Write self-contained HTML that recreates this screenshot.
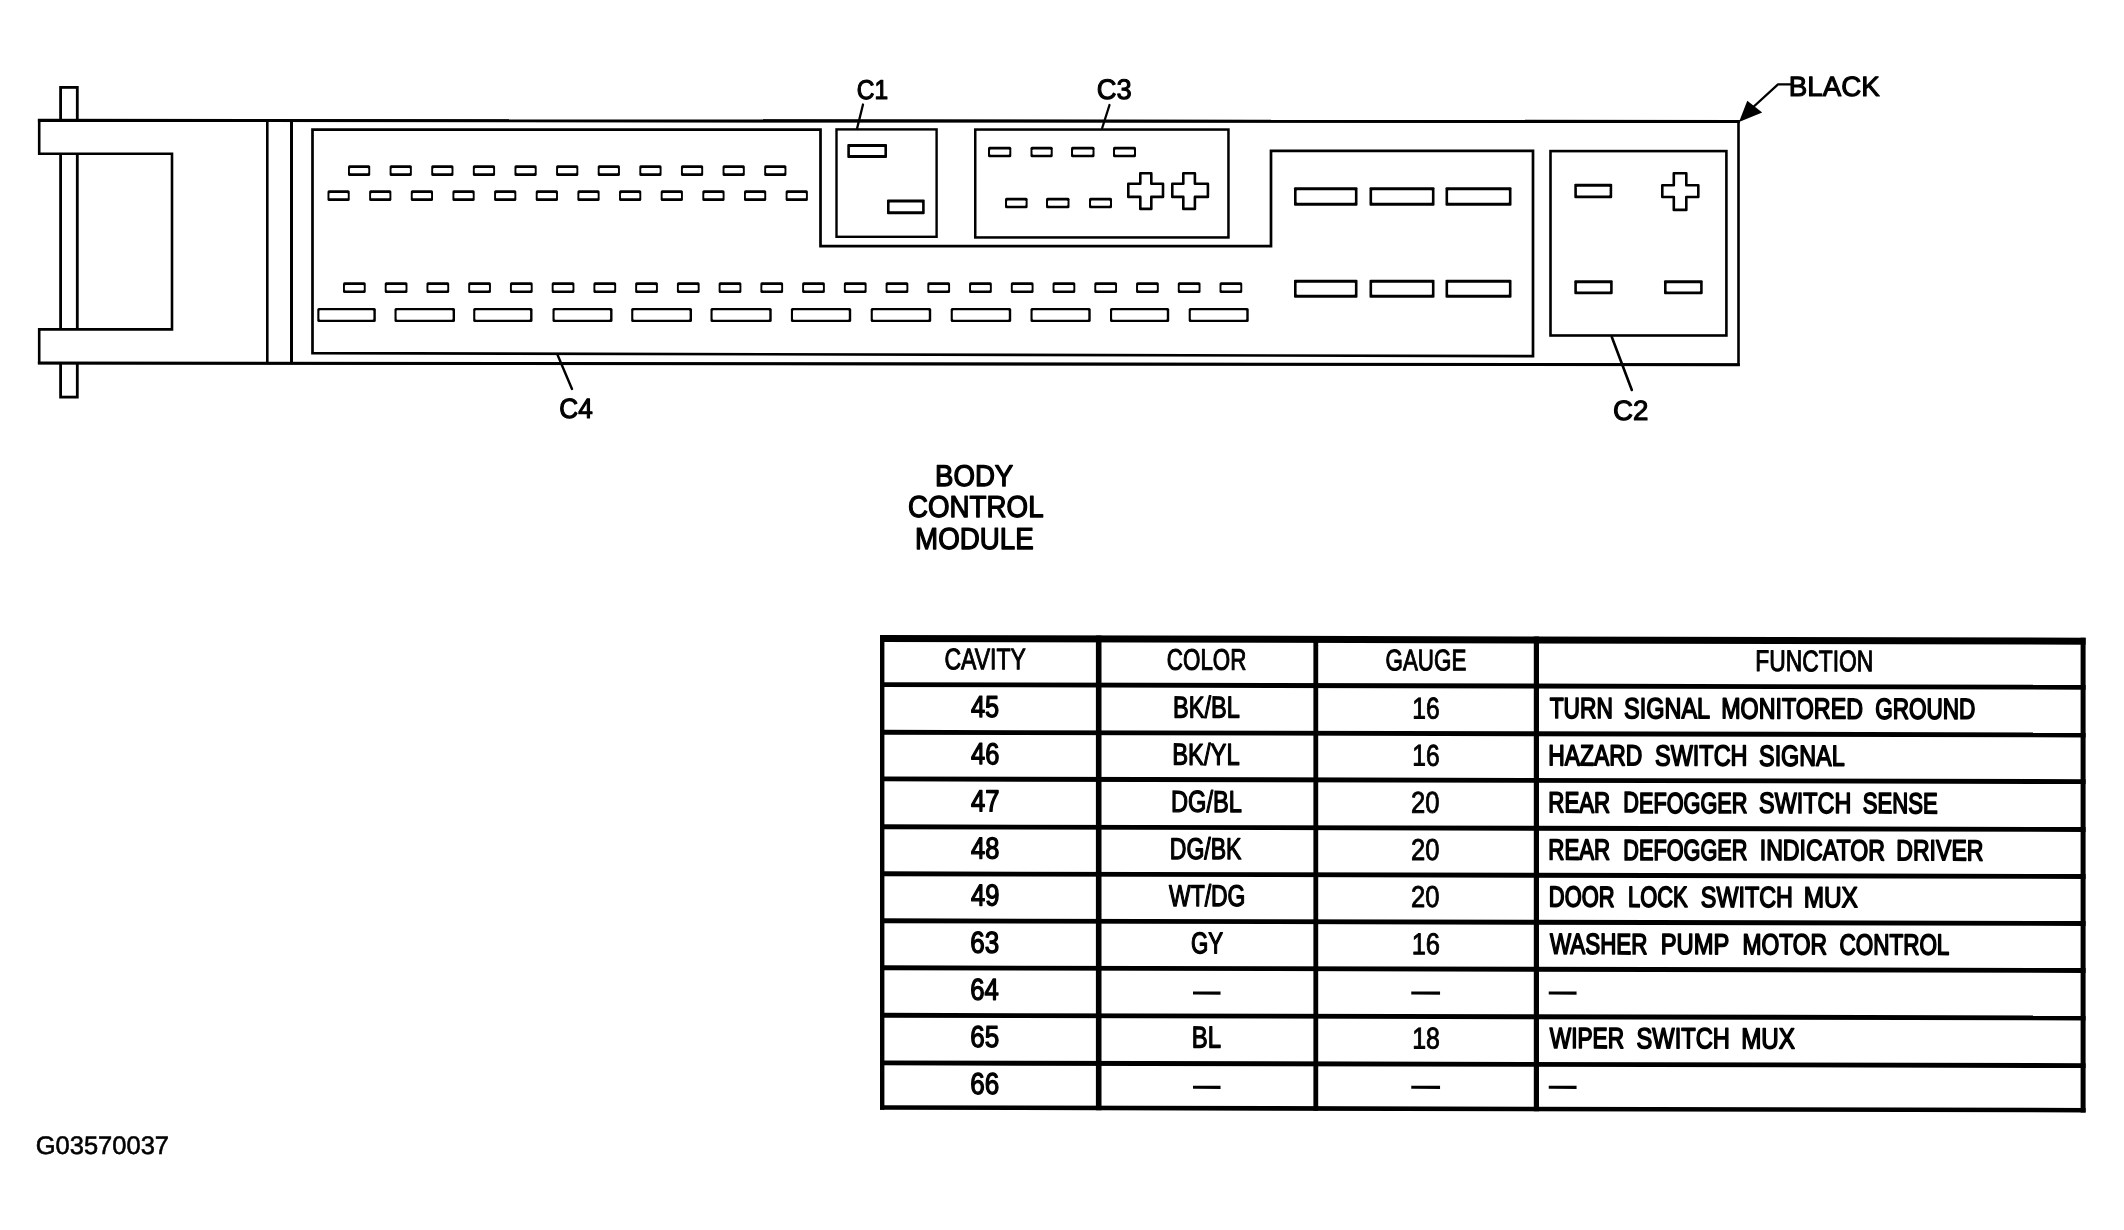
<!DOCTYPE html>
<html><head><meta charset="utf-8"><title>Body Control Module</title>
<style>
html,body{margin:0;padding:0;background:#fff;}
body{width:2124px;height:1230px;overflow:hidden;font-family:"Liberation Sans",sans-serif;}
svg{display:block;will-change:transform;filter:grayscale(1);}
</style></head><body>
<svg width="2124" height="1230" viewBox="0 0 2124 1230" text-rendering="geometricPrecision">
<rect width="2124" height="1230" fill="#fff"/>
<g id="conn">
<rect x="60.6" y="87.4" width="16.7" height="309.7" rx="0" fill="none" stroke="#000" stroke-width="2.8"/>
<path d="M39.2,120.4 L1738.5,121.5 L1738.5,364.8 L39.2,363 V329.4 H172 V153.8 H39.2 Z" fill="#fff" stroke="#000" stroke-width="2.6" stroke-linejoin="miter"/>
<path d="M37.9,120.4 L1739.8,121.5" stroke="#000" stroke-width="3.1" fill="none"/>
<path d="M37.9,363 L1739.8,364.8" stroke="#000" stroke-width="3" fill="none"/>
<line x1="267.3" y1="120.6" x2="267.3" y2="363.2" stroke="#000" stroke-width="2.6" stroke-linecap="butt"/>
<line x1="291.5" y1="120.6" x2="291.5" y2="363.2" stroke="#000" stroke-width="3" stroke-linecap="butt"/>
<path d="M312.5,129.6 H820.5 V246.2 H1271 V150.8 H1533 V356.1 L312.5,353.2 Z" fill="none" stroke="#000" stroke-width="2.7"/>
<rect x="836.5" y="129.4" width="100.1" height="107.4" rx="0" fill="none" stroke="#000" stroke-width="2.4"/>
<rect x="975.25" y="129.55" width="253.2" height="107.9" rx="0" fill="none" stroke="#000" stroke-width="2.5"/>
<rect x="1550.5" y="151.1" width="175.9" height="184.4" rx="0" fill="none" stroke="#000" stroke-width="2.6"/>
<rect x="348" y="165.3" width="22.2" height="10.6" rx="1.5" fill="#000"/><rect x="349.9" y="168" width="18.4" height="5.2" rx="0.8999999999999999" fill="#fff"/>
<rect x="389.62" y="165.3" width="22.2" height="10.6" rx="1.5" fill="#000"/><rect x="391.52" y="168" width="18.4" height="5.2" rx="0.8999999999999999" fill="#fff"/>
<rect x="431.24" y="165.3" width="22.2" height="10.6" rx="1.5" fill="#000"/><rect x="433.14" y="168" width="18.4" height="5.2" rx="0.8999999999999999" fill="#fff"/>
<rect x="472.86" y="165.3" width="22.2" height="10.6" rx="1.5" fill="#000"/><rect x="474.76" y="168" width="18.4" height="5.2" rx="0.8999999999999999" fill="#fff"/>
<rect x="514.48" y="165.3" width="22.2" height="10.6" rx="1.5" fill="#000"/><rect x="516.38" y="168" width="18.4" height="5.2" rx="0.8999999999999999" fill="#fff"/>
<rect x="556.1" y="165.3" width="22.2" height="10.6" rx="1.5" fill="#000"/><rect x="558" y="168" width="18.4" height="5.2" rx="0.8999999999999999" fill="#fff"/>
<rect x="597.72" y="165.3" width="22.2" height="10.6" rx="1.5" fill="#000"/><rect x="599.62" y="168" width="18.4" height="5.2" rx="0.8999999999999999" fill="#fff"/>
<rect x="639.34" y="165.3" width="22.2" height="10.6" rx="1.5" fill="#000"/><rect x="641.24" y="168" width="18.4" height="5.2" rx="0.8999999999999999" fill="#fff"/>
<rect x="680.96" y="165.3" width="22.2" height="10.6" rx="1.5" fill="#000"/><rect x="682.86" y="168" width="18.4" height="5.2" rx="0.8999999999999999" fill="#fff"/>
<rect x="722.58" y="165.3" width="22.2" height="10.6" rx="1.5" fill="#000"/><rect x="724.48" y="168" width="18.4" height="5.2" rx="0.8999999999999999" fill="#fff"/>
<rect x="764.2" y="165.3" width="22.2" height="10.6" rx="1.5" fill="#000"/><rect x="766.1" y="168" width="18.4" height="5.2" rx="0.8999999999999999" fill="#fff"/>
<rect x="327.5" y="190.3" width="22.2" height="10.7" rx="1.5" fill="#000"/><rect x="329.4" y="193" width="18.4" height="5.3" rx="0.8999999999999999" fill="#fff"/>
<rect x="369.15" y="190.3" width="22.2" height="10.7" rx="1.5" fill="#000"/><rect x="371.05" y="193" width="18.4" height="5.3" rx="0.8999999999999999" fill="#fff"/>
<rect x="410.8" y="190.3" width="22.2" height="10.7" rx="1.5" fill="#000"/><rect x="412.7" y="193" width="18.4" height="5.3" rx="0.8999999999999999" fill="#fff"/>
<rect x="452.45" y="190.3" width="22.2" height="10.7" rx="1.5" fill="#000"/><rect x="454.35" y="193" width="18.4" height="5.3" rx="0.8999999999999999" fill="#fff"/>
<rect x="494.1" y="190.3" width="22.2" height="10.7" rx="1.5" fill="#000"/><rect x="496" y="193" width="18.4" height="5.3" rx="0.8999999999999999" fill="#fff"/>
<rect x="535.75" y="190.3" width="22.2" height="10.7" rx="1.5" fill="#000"/><rect x="537.65" y="193" width="18.4" height="5.3" rx="0.8999999999999999" fill="#fff"/>
<rect x="577.4" y="190.3" width="22.2" height="10.7" rx="1.5" fill="#000"/><rect x="579.3" y="193" width="18.4" height="5.3" rx="0.8999999999999999" fill="#fff"/>
<rect x="619.05" y="190.3" width="22.2" height="10.7" rx="1.5" fill="#000"/><rect x="620.95" y="193" width="18.4" height="5.3" rx="0.8999999999999999" fill="#fff"/>
<rect x="660.7" y="190.3" width="22.2" height="10.7" rx="1.5" fill="#000"/><rect x="662.6" y="193" width="18.4" height="5.3" rx="0.8999999999999999" fill="#fff"/>
<rect x="702.35" y="190.3" width="22.2" height="10.7" rx="1.5" fill="#000"/><rect x="704.25" y="193" width="18.4" height="5.3" rx="0.8999999999999999" fill="#fff"/>
<rect x="744" y="190.3" width="22.2" height="10.7" rx="1.5" fill="#000"/><rect x="745.9" y="193" width="18.4" height="5.3" rx="0.8999999999999999" fill="#fff"/>
<rect x="785.65" y="190.3" width="22.2" height="10.7" rx="1.5" fill="#000"/><rect x="787.55" y="193" width="18.4" height="5.3" rx="0.8999999999999999" fill="#fff"/>
<rect x="343" y="282.2" width="22.7" height="10.7" rx="1.5" fill="#000"/><rect x="344.9" y="284.9" width="18.9" height="5.6" rx="0.8999999999999999" fill="#fff"/>
<rect x="384.74" y="282.2" width="22.7" height="10.7" rx="1.5" fill="#000"/><rect x="386.64" y="284.9" width="18.9" height="5.6" rx="0.8999999999999999" fill="#fff"/>
<rect x="426.48" y="282.2" width="22.7" height="10.7" rx="1.5" fill="#000"/><rect x="428.38" y="284.9" width="18.9" height="5.6" rx="0.8999999999999999" fill="#fff"/>
<rect x="468.22" y="282.2" width="22.7" height="10.7" rx="1.5" fill="#000"/><rect x="470.12" y="284.9" width="18.9" height="5.6" rx="0.8999999999999999" fill="#fff"/>
<rect x="509.96" y="282.2" width="22.7" height="10.7" rx="1.5" fill="#000"/><rect x="511.86" y="284.9" width="18.9" height="5.6" rx="0.8999999999999999" fill="#fff"/>
<rect x="551.7" y="282.2" width="22.7" height="10.7" rx="1.5" fill="#000"/><rect x="553.6" y="284.9" width="18.9" height="5.6" rx="0.8999999999999999" fill="#fff"/>
<rect x="593.44" y="282.2" width="22.7" height="10.7" rx="1.5" fill="#000"/><rect x="595.34" y="284.9" width="18.9" height="5.6" rx="0.8999999999999999" fill="#fff"/>
<rect x="635.18" y="282.2" width="22.7" height="10.7" rx="1.5" fill="#000"/><rect x="637.08" y="284.9" width="18.9" height="5.6" rx="0.8999999999999999" fill="#fff"/>
<rect x="676.92" y="282.2" width="22.7" height="10.7" rx="1.5" fill="#000"/><rect x="678.82" y="284.9" width="18.9" height="5.6" rx="0.8999999999999999" fill="#fff"/>
<rect x="718.66" y="282.2" width="22.7" height="10.7" rx="1.5" fill="#000"/><rect x="720.56" y="284.9" width="18.9" height="5.6" rx="0.8999999999999999" fill="#fff"/>
<rect x="760.4" y="282.2" width="22.7" height="10.7" rx="1.5" fill="#000"/><rect x="762.3" y="284.9" width="18.9" height="5.6" rx="0.8999999999999999" fill="#fff"/>
<rect x="802.14" y="282.2" width="22.7" height="10.7" rx="1.5" fill="#000"/><rect x="804.04" y="284.9" width="18.9" height="5.6" rx="0.8999999999999999" fill="#fff"/>
<rect x="843.88" y="282.2" width="22.7" height="10.7" rx="1.5" fill="#000"/><rect x="845.78" y="284.9" width="18.9" height="5.6" rx="0.8999999999999999" fill="#fff"/>
<rect x="885.62" y="282.2" width="22.7" height="10.7" rx="1.5" fill="#000"/><rect x="887.52" y="284.9" width="18.9" height="5.6" rx="0.8999999999999999" fill="#fff"/>
<rect x="927.36" y="282.2" width="22.7" height="10.7" rx="1.5" fill="#000"/><rect x="929.26" y="284.9" width="18.9" height="5.6" rx="0.8999999999999999" fill="#fff"/>
<rect x="969.1" y="282.2" width="22.7" height="10.7" rx="1.5" fill="#000"/><rect x="971" y="284.9" width="18.9" height="5.6" rx="0.8999999999999999" fill="#fff"/>
<rect x="1010.84" y="282.2" width="22.7" height="10.7" rx="1.5" fill="#000"/><rect x="1012.74" y="284.9" width="18.9" height="5.6" rx="0.8999999999999999" fill="#fff"/>
<rect x="1052.58" y="282.2" width="22.7" height="10.7" rx="1.5" fill="#000"/><rect x="1054.48" y="284.9" width="18.9" height="5.6" rx="0.8999999999999999" fill="#fff"/>
<rect x="1094.32" y="282.2" width="22.7" height="10.7" rx="1.5" fill="#000"/><rect x="1096.22" y="284.9" width="18.9" height="5.6" rx="0.8999999999999999" fill="#fff"/>
<rect x="1136.06" y="282.2" width="22.7" height="10.7" rx="1.5" fill="#000"/><rect x="1137.96" y="284.9" width="18.9" height="5.6" rx="0.8999999999999999" fill="#fff"/>
<rect x="1177.8" y="282.2" width="22.7" height="10.7" rx="1.5" fill="#000"/><rect x="1179.7" y="284.9" width="18.9" height="5.6" rx="0.8999999999999999" fill="#fff"/>
<rect x="1219.54" y="282.2" width="22.7" height="10.7" rx="1.5" fill="#000"/><rect x="1221.44" y="284.9" width="18.9" height="5.6" rx="0.8999999999999999" fill="#fff"/>
<rect x="317.3" y="308" width="58.5" height="13.9" rx="1.5" fill="#000"/><rect x="319.4" y="310.2" width="54" height="9.5" rx="0.8999999999999999" fill="#fff"/>
<rect x="394.5" y="308" width="60.5" height="13.9" rx="1.5" fill="#000"/><rect x="396.6" y="310.2" width="56" height="9.5" rx="0.8999999999999999" fill="#fff"/>
<rect x="473.2" y="308" width="59.3" height="13.9" rx="1.5" fill="#000"/><rect x="475.3" y="310.2" width="54.8" height="9.5" rx="0.8999999999999999" fill="#fff"/>
<rect x="552.5" y="308" width="60" height="13.9" rx="1.5" fill="#000"/><rect x="554.6" y="310.2" width="55.5" height="9.5" rx="0.8999999999999999" fill="#fff"/>
<rect x="631.2" y="308" width="60.8" height="13.9" rx="1.5" fill="#000"/><rect x="633.3" y="310.2" width="56.3" height="9.5" rx="0.8999999999999999" fill="#fff"/>
<rect x="710.5" y="308" width="61.2" height="13.9" rx="1.5" fill="#000"/><rect x="712.6" y="310.2" width="56.7" height="9.5" rx="0.8999999999999999" fill="#fff"/>
<rect x="790.9" y="308" width="60.3" height="13.9" rx="1.5" fill="#000"/><rect x="793" y="310.2" width="55.8" height="9.5" rx="0.8999999999999999" fill="#fff"/>
<rect x="870.7" y="308" width="60.5" height="13.9" rx="1.5" fill="#000"/><rect x="872.8" y="310.2" width="56" height="9.5" rx="0.8999999999999999" fill="#fff"/>
<rect x="950.7" y="308" width="60.5" height="13.9" rx="1.5" fill="#000"/><rect x="952.8" y="310.2" width="56" height="9.5" rx="0.8999999999999999" fill="#fff"/>
<rect x="1030.5" y="308" width="60.2" height="13.9" rx="1.5" fill="#000"/><rect x="1032.6" y="310.2" width="55.7" height="9.5" rx="0.8999999999999999" fill="#fff"/>
<rect x="1110" y="308" width="59.2" height="13.9" rx="1.5" fill="#000"/><rect x="1112.1" y="310.2" width="54.7" height="9.5" rx="0.8999999999999999" fill="#fff"/>
<rect x="1188.7" y="308" width="60" height="13.9" rx="1.5" fill="#000"/><rect x="1190.8" y="310.2" width="55.5" height="9.5" rx="0.8999999999999999" fill="#fff"/>
<rect x="1294" y="187.3" width="63.5" height="18.4" rx="1" fill="#000"/><rect x="1296.6" y="190.3" width="58.3" height="12.4" rx="0.6" fill="#fff"/>
<rect x="1294" y="279.8" width="63.5" height="17.9" rx="1" fill="#000"/><rect x="1296.6" y="282.8" width="58.3" height="11.9" rx="0.6" fill="#fff"/>
<rect x="1369.5" y="187.3" width="65" height="18.4" rx="1" fill="#000"/><rect x="1372.1" y="190.3" width="59.8" height="12.4" rx="0.6" fill="#fff"/>
<rect x="1369.5" y="279.8" width="65" height="17.9" rx="1" fill="#000"/><rect x="1372.1" y="282.8" width="59.8" height="11.9" rx="0.6" fill="#fff"/>
<rect x="1445.5" y="187.3" width="66" height="18.4" rx="1" fill="#000"/><rect x="1448.1" y="190.3" width="60.8" height="12.4" rx="0.6" fill="#fff"/>
<rect x="1445.5" y="279.8" width="66" height="17.9" rx="1" fill="#000"/><rect x="1448.1" y="282.8" width="60.8" height="11.9" rx="0.6" fill="#fff"/>
<rect x="847.3" y="144" width="39.7" height="14" rx="1" fill="#000"/><rect x="849.9" y="146.9" width="34.5" height="8.2" rx="0.6" fill="#fff"/>
<rect x="887" y="199.6" width="37.7" height="14.6" rx="1" fill="#000"/><rect x="889.6" y="202.5" width="32.5" height="8.8" rx="0.6" fill="#fff"/>
<rect x="988" y="146.8" width="23.3" height="10.5" rx="1.5" fill="#000"/><rect x="990" y="149.4" width="19.3" height="5.3" rx="0.8999999999999999" fill="#fff"/>
<rect x="1030.5" y="146.8" width="22.2" height="10.5" rx="1.5" fill="#000"/><rect x="1032.5" y="149.4" width="18.2" height="5.3" rx="0.8999999999999999" fill="#fff"/>
<rect x="1071" y="146.8" width="23.5" height="10.5" rx="1.5" fill="#000"/><rect x="1073" y="149.4" width="19.5" height="5.3" rx="0.8999999999999999" fill="#fff"/>
<rect x="1113" y="146.8" width="23" height="10.5" rx="1.5" fill="#000"/><rect x="1115" y="149.4" width="19" height="5.3" rx="0.8999999999999999" fill="#fff"/>
<rect x="1005" y="197.8" width="22.6" height="10.5" rx="1.5" fill="#000"/><rect x="1007" y="200.4" width="18.6" height="5.3" rx="0.8999999999999999" fill="#fff"/>
<rect x="1046" y="197.8" width="23.5" height="10.5" rx="1.5" fill="#000"/><rect x="1048" y="200.4" width="19.5" height="5.3" rx="0.8999999999999999" fill="#fff"/>
<rect x="1089" y="197.8" width="23" height="10.5" rx="1.5" fill="#000"/><rect x="1091" y="200.4" width="19" height="5.3" rx="0.8999999999999999" fill="#fff"/>
<path d="M1140.3,173.3 H1151.3 V183.8 H1163 V196.9 H1151.3 V208.9 H1140.3 V196.9 H1128.3 V183.8 H1140.3 Z" fill="none" stroke="#000" stroke-width="2.6" stroke-linejoin="round"/>
<path d="M1183.3,173.3 H1194.9 V183.8 H1207.9 V196.9 H1194.9 V208.9 H1183.3 V196.9 H1172.3 V183.8 H1183.3 Z" fill="none" stroke="#000" stroke-width="2.6" stroke-linejoin="round"/>
<rect x="1574.3" y="183.8" width="37.9" height="14.5" rx="1" fill="#000"/><rect x="1576.9" y="186.7" width="32.7" height="8.7" rx="0.6" fill="#fff"/>
<rect x="1574.3" y="280.3" width="38.4" height="14" rx="1" fill="#000"/><rect x="1576.9" y="283.2" width="33.2" height="8.2" rx="0.6" fill="#fff"/>
<rect x="1664" y="280.3" width="38.7" height="14" rx="1" fill="#000"/><rect x="1666.6" y="283.2" width="33.5" height="8.2" rx="0.6" fill="#fff"/>
<path d="M1673.8,173.3 H1686.3 V185.3 H1698.3 V197 H1686.3 V209.9 H1673.8 V197 H1662.3 V185.3 H1673.8 Z" fill="none" stroke="#000" stroke-width="2.6" stroke-linejoin="round"/>
<line x1="863" y1="104.5" x2="857.2" y2="128" stroke="#000" stroke-width="2.3" stroke-linecap="round"/>
<line x1="1109.5" y1="105" x2="1102.2" y2="128" stroke="#000" stroke-width="2.3" stroke-linecap="round"/>
<line x1="557.6" y1="355" x2="572" y2="389" stroke="#000" stroke-width="2.4" stroke-linecap="round"/>
<line x1="1611.8" y1="337" x2="1631.8" y2="390" stroke="#000" stroke-width="2.6" stroke-linecap="round"/>
<path d="M1791,84.4 H1778 L1750,110" fill="none" stroke="#000" stroke-width="2.3" stroke-linejoin="round"/>
<path d="M1739,122 L1747.3,100.8 L1762.2,112.6 Z" fill="#000"/>
</g>
<g id="labels" font-family="'Liberation Sans', sans-serif" fill="#000">
<text transform="matrix(0.2449 0 0 0.2717 856.83 98.59)" font-size="100" stroke="#000" stroke-width="4.49" stroke-linejoin="round">C1</text>
<text transform="matrix(0.2734 0 0 0.2831 1096.68 98.83)" font-size="100" stroke="#000" stroke-width="4.02" stroke-linejoin="round">C3</text>
<text transform="matrix(0.2617 0 0 0.2796 559.24 417.81)" font-size="100" stroke="#000" stroke-width="4.20" stroke-linejoin="round">C4</text>
<text transform="matrix(0.2769 0 0 0.2805 1612.97 420.14)" font-size="100" stroke="#000" stroke-width="3.97" stroke-linejoin="round">C2</text>
<text transform="matrix(0.2776 0 0 0.2792 1788.76 95.75)" font-size="100" stroke="#000" stroke-width="3.96" stroke-linejoin="round">BLACK</text>
<text transform="matrix(0.2762 0 0 0.2996 935.02 485.55)" font-size="100" stroke="#000" stroke-width="4.34" stroke-linejoin="round">BODY</text>
<text transform="matrix(0.2776 0 0 0.3038 907.91 517.04)" font-size="100" stroke="#000" stroke-width="4.32" stroke-linejoin="round">CONTROL</text>
<text transform="matrix(0.2777 0 0 0.3038 915.01 548.54)" font-size="100" stroke="#000" stroke-width="4.32" stroke-linejoin="round">MODULE</text>
<text transform="matrix(0.2550 0 0 0.2546 35.72 1154.2)" font-size="100" stroke="#000" stroke-width="2.35" stroke-linejoin="round">G03570037</text>
</g>
<g id="table" transform="translate(882 638) skewY(0.128) translate(-882 -638)">
<rect x="880" y="635" width="1205.6" height="7" fill="#000"/>
<rect x="880" y="682.15" width="1205.6" height="4.9" fill="#000"/>
<rect x="880" y="729.85" width="1205.6" height="4.9" fill="#000"/>
<rect x="880" y="776.45" width="1205.6" height="4.9" fill="#000"/>
<rect x="880" y="824.35" width="1205.6" height="4.9" fill="#000"/>
<rect x="880" y="871.35" width="1205.6" height="4.9" fill="#000"/>
<rect x="880" y="918.35" width="1205.6" height="4.9" fill="#000"/>
<rect x="880" y="965.35" width="1205.6" height="4.9" fill="#000"/>
<rect x="880" y="1012.85" width="1205.6" height="4.9" fill="#000"/>
<rect x="880" y="1060.45" width="1205.6" height="4.9" fill="#000"/>
<rect x="880" y="1105.2" width="1205.6" height="4.6" fill="#000"/>
<rect x="880" y="635" width="4.4" height="474.8" fill="#000"/>
<rect x="1095.9" y="635" width="5.6" height="474.8" fill="#000"/>
<rect x="1313.4" y="635" width="4.8" height="474.8" fill="#000"/>
<rect x="1533.8" y="635" width="5.2" height="474.8" fill="#000"/>
<rect x="2080.6" y="635" width="5" height="474.8" fill="#000"/>
<g font-family="'Liberation Sans', sans-serif" fill="#000">
<text transform="matrix(0.2303 0 0 0.2977 944.45 669.08)" font-size="100" stroke="#000" stroke-width="3.47" stroke-linejoin="round">CAVITY</text>
<text transform="matrix(0.2240 0 0 0.2973 1166.78 669.07)" font-size="100" stroke="#000" stroke-width="3.57" stroke-linejoin="round">COLOR</text>
<text transform="matrix(0.2239 0 0 0.2973 1385.48 669.07)" font-size="100" stroke="#000" stroke-width="3.57" stroke-linejoin="round">GAUGE</text>
<text transform="matrix(0.2285 0 0 0.2976 1755.21 669.08)" font-size="100" stroke="#000" stroke-width="3.50" stroke-linejoin="round">FUNCTION</text>
<text transform="matrix(0.2535 0 0 0.3029 971 716.71)" font-size="100" stroke="#000" stroke-width="4.54" stroke-linejoin="round">45</text>
<text transform="matrix(0.2541 0 0 0.3030 971 763.91)" font-size="100" stroke="#000" stroke-width="4.53" stroke-linejoin="round">46</text>
<text transform="matrix(0.2559 0 0 0.3031 971 811.12)" font-size="100" stroke="#000" stroke-width="4.49" stroke-linejoin="round">47</text>
<text transform="matrix(0.2541 0 0 0.3030 971 858.21)" font-size="100" stroke="#000" stroke-width="4.53" stroke-linejoin="round">48</text>
<text transform="matrix(0.2547 0 0 0.3030 971 905.32)" font-size="100" stroke="#000" stroke-width="4.52" stroke-linejoin="round">49</text>
<text transform="matrix(0.2609 0 0 0.3035 970.27 952.53)" font-size="100" stroke="#000" stroke-width="4.41" stroke-linejoin="round">63</text>
<text transform="matrix(0.2571 0 0 0.3032 970.29 999.52)" font-size="100" stroke="#000" stroke-width="4.47" stroke-linejoin="round">64</text>
<text transform="matrix(0.2603 0 0 0.3034 970.27 1046.73)" font-size="100" stroke="#000" stroke-width="4.42" stroke-linejoin="round">65</text>
<text transform="matrix(0.2609 0 0 0.3035 970.27 1093.73)" font-size="100" stroke="#000" stroke-width="4.41" stroke-linejoin="round">66</text>
<text transform="matrix(0.2353 0 0 0.3014 1173.06 716.76)" font-size="100" stroke="#000" stroke-width="4.25" stroke-linejoin="round">BK/BL</text>
<text transform="matrix(0.2382 0 0 0.3016 1172.23 763.97)" font-size="100" stroke="#000" stroke-width="4.20" stroke-linejoin="round">BK/YL</text>
<text transform="matrix(0.2364 0 0 0.3015 1171.05 811.16)" font-size="100" stroke="#000" stroke-width="4.23" stroke-linejoin="round">DG/BL</text>
<text transform="matrix(0.2303 0 0 0.3010 1169.8 858.25)" font-size="100" stroke="#000" stroke-width="4.34" stroke-linejoin="round">DG/BK</text>
<text transform="matrix(0.2291 0 0 0.3009 1169.09 905.34)" font-size="100" stroke="#000" stroke-width="4.37" stroke-linejoin="round">WT/DG</text>
<text transform="matrix(0.2222 0 0 0.3003 1191.09 952.52)" font-size="100" stroke="#000" stroke-width="4.50" stroke-linejoin="round">GY</text>
<text transform="matrix(0.2393 0 0 0.3017 1191.73 1046.77)" font-size="100" stroke="#000" stroke-width="4.18" stroke-linejoin="round">BL</text>
<text transform="matrix(0.2463 0 0 0.3009 1412.23 717.24)" font-size="100" stroke="#000" stroke-width="3.04" stroke-linejoin="round">16</text>
<text transform="matrix(0.2463 0 0 0.3009 1412.23 764.44)" font-size="100" stroke="#000" stroke-width="3.04" stroke-linejoin="round">16</text>
<text transform="matrix(0.2557 0 0 0.3013 1411.1 811.66)" font-size="100" stroke="#000" stroke-width="2.93" stroke-linejoin="round">20</text>
<text transform="matrix(0.2557 0 0 0.3013 1411.1 858.76)" font-size="100" stroke="#000" stroke-width="2.93" stroke-linejoin="round">20</text>
<text transform="matrix(0.2557 0 0 0.3013 1411.1 905.86)" font-size="100" stroke="#000" stroke-width="2.93" stroke-linejoin="round">20</text>
<text transform="matrix(0.2544 0 0 0.3013 1411.67 953.06)" font-size="100" stroke="#000" stroke-width="2.95" stroke-linejoin="round">16</text>
<text transform="matrix(0.2494 0 0 0.3010 1412.2 1047.25)" font-size="100" stroke="#000" stroke-width="3.01" stroke-linejoin="round">18</text>
<text transform="matrix(0.2279 0 0 0.2901 1549.64 716.47)" font-size="100" stroke="#000" stroke-width="5.70" stroke-linejoin="round">TURN</text>
<text transform="matrix(0.2345 0 0 0.2907 1624.09 716.49)" font-size="100" stroke="#000" stroke-width="5.54" stroke-linejoin="round">SIGNAL</text>
<text transform="matrix(0.2326 0 0 0.2906 1721.23 716.49)" font-size="100" stroke="#000" stroke-width="5.59" stroke-linejoin="round">MONITORED</text>
<text transform="matrix(0.2254 0 0 0.2899 1875.22 716.46)" font-size="100" stroke="#000" stroke-width="5.77" stroke-linejoin="round">GROUND</text>
<text transform="matrix(0.2290 0 0 0.2902 1548.26 763.68)" font-size="100" stroke="#000" stroke-width="5.68" stroke-linejoin="round">HAZARD</text>
<text transform="matrix(0.2342 0 0 0.2907 1655.1 763.69)" font-size="100" stroke="#000" stroke-width="5.55" stroke-linejoin="round">SWITCH</text>
<text transform="matrix(0.2331 0 0 0.2906 1759.1 763.69)" font-size="100" stroke="#000" stroke-width="5.58" stroke-linejoin="round">SIGNAL</text>
<text transform="matrix(0.2225 0 0 0.2896 1548.31 810.85)" font-size="100" stroke="#000" stroke-width="5.84" stroke-linejoin="round">REAR</text>
<text transform="matrix(0.2167 0 0 0.2890 1623.36 810.83)" font-size="100" stroke="#000" stroke-width="6.00" stroke-linejoin="round">DEFOGGER</text>
<text transform="matrix(0.2337 0 0 0.2907 1759.1 810.89)" font-size="100" stroke="#000" stroke-width="5.56" stroke-linejoin="round">SWITCH</text>
<text transform="matrix(0.2210 0 0 0.2894 1862.86 810.85)" font-size="100" stroke="#000" stroke-width="5.88" stroke-linejoin="round">SENSE</text>
<text transform="matrix(0.2225 0 0 0.2896 1548.31 857.95)" font-size="100" stroke="#000" stroke-width="5.84" stroke-linejoin="round">REAR</text>
<text transform="matrix(0.2167 0 0 0.2890 1623.36 857.93)" font-size="100" stroke="#000" stroke-width="6.00" stroke-linejoin="round">DEFOGGER</text>
<text transform="matrix(0.2316 0 0 0.2905 1759.71 857.98)" font-size="100" stroke="#000" stroke-width="5.61" stroke-linejoin="round">INDICATOR</text>
<text transform="matrix(0.2308 0 0 0.2904 1896.25 857.98)" font-size="100" stroke="#000" stroke-width="5.63" stroke-linejoin="round">DRIVER</text>
<text transform="matrix(0.2192 0 0 0.2892 1548.84 905.04)" font-size="100" stroke="#000" stroke-width="5.93" stroke-linejoin="round">DOOR</text>
<text transform="matrix(0.2188 0 0 0.2892 1628.04 905.04)" font-size="100" stroke="#000" stroke-width="5.94" stroke-linejoin="round">LOCK</text>
<text transform="matrix(0.2337 0 0 0.2907 1700.8 905.09)" font-size="100" stroke="#000" stroke-width="5.56" stroke-linejoin="round">SWITCH</text>
<text transform="matrix(0.2442 0 0 0.2916 1803.64 905.12)" font-size="100" stroke="#000" stroke-width="5.32" stroke-linejoin="round">MUX</text>
<text transform="matrix(0.2237 0 0 0.2897 1550.04 952.26)" font-size="100" stroke="#000" stroke-width="5.81" stroke-linejoin="round">WASHER</text>
<text transform="matrix(0.2374 0 0 0.2910 1660.69 952.3)" font-size="100" stroke="#000" stroke-width="5.48" stroke-linejoin="round">PUMP</text>
<text transform="matrix(0.2285 0 0 0.2902 1742.46 952.27)" font-size="100" stroke="#000" stroke-width="5.69" stroke-linejoin="round">MOTOR</text>
<text transform="matrix(0.2246 0 0 0.2898 1839.53 952.26)" font-size="100" stroke="#000" stroke-width="5.79" stroke-linejoin="round">CONTROL</text>
<text transform="matrix(0.2270 0 0 0.2900 1549.74 1046.47)" font-size="100" stroke="#000" stroke-width="5.73" stroke-linejoin="round">WIPER</text>
<text transform="matrix(0.2368 0 0 0.2909 1636.58 1046.5)" font-size="100" stroke="#000" stroke-width="5.49" stroke-linejoin="round">SWITCH</text>
<text transform="matrix(0.2418 0 0 0.2914 1741.16 1046.52)" font-size="100" stroke="#000" stroke-width="5.38" stroke-linejoin="round">MUX</text>
</g>
<g font-family="'Liberation Sans', sans-serif" fill="#000">
<text transform="matrix(0.2750 0 0 0.4741 1193 1004.33)" font-size="100">—</text>
<text transform="matrix(0.2880 0 0 0.4741 1411.2 1003.83)" font-size="100">—</text>
<text transform="matrix(0.2780 0 0 0.4741 1548.7 1003.53)" font-size="100">—</text>
<text transform="matrix(0.2750 0 0 0.4741 1193 1098.63)" font-size="100">—</text>
<text transform="matrix(0.2880 0 0 0.4741 1411.2 1098.13)" font-size="100">—</text>
<text transform="matrix(0.2780 0 0 0.4741 1548.7 1097.83)" font-size="100">—</text>
</g>
</g>
</svg>
</body></html>
